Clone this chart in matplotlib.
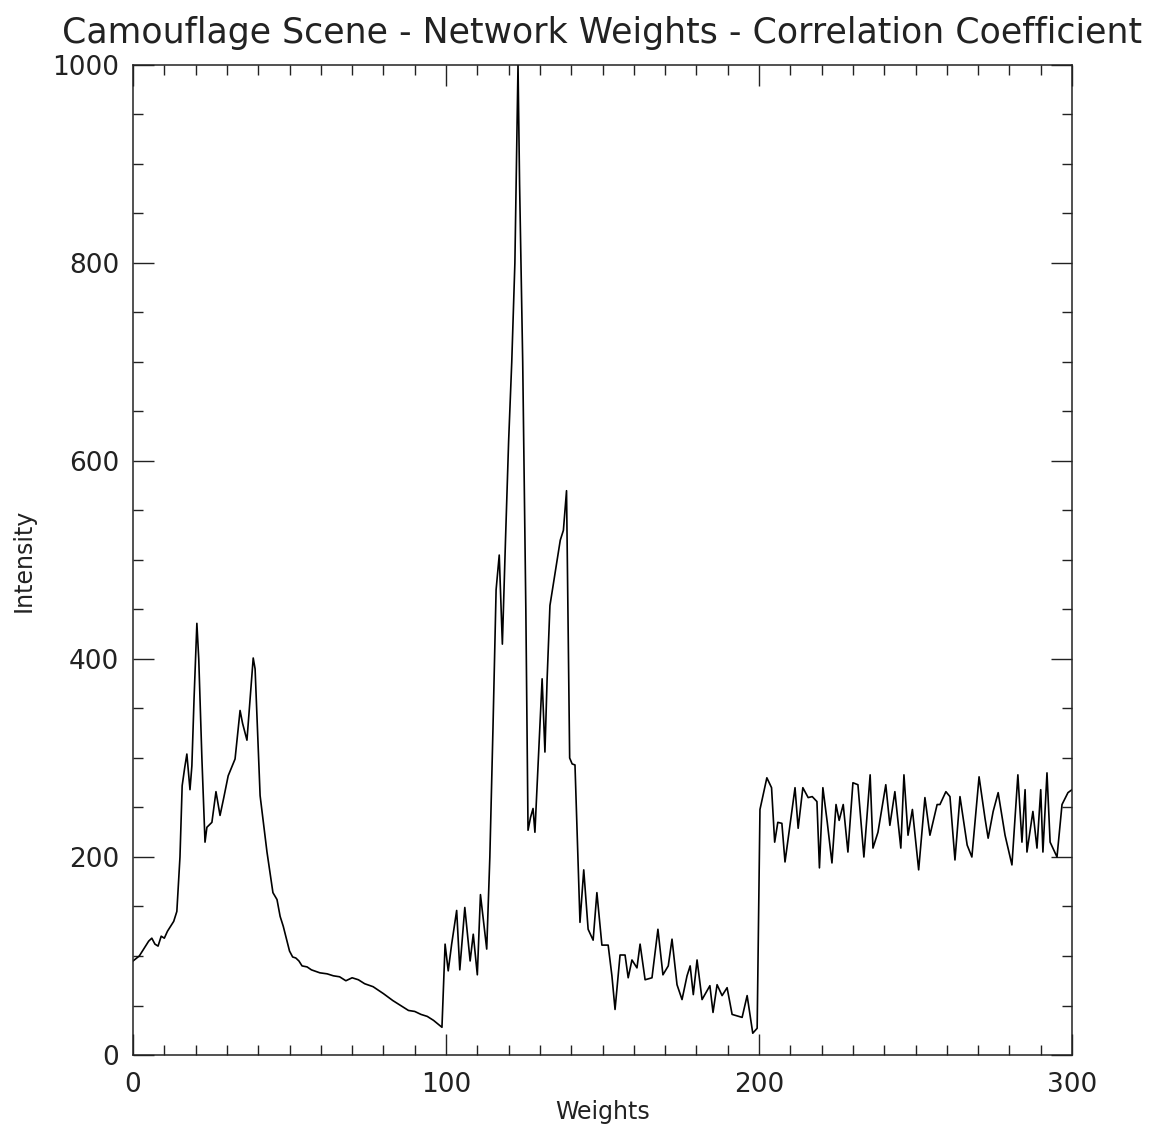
import numpy as np
import matplotlib as mpl
import matplotlib.pyplot as plt
from matplotlib.ticker import MultipleLocator

# values
weights = [0, 2, 4, 5, 6, 7, 8, 9, 10, 11, 13, 14, 15, 15.7, 16.5, 17.2, 18.2, 18.8, 19.5, 20.4,
           21, 22, 23, 23.6, 25.2, 26.5, 27.8, 29, 30.4, 32.6, 34.2, 35, 36.4, 38.4, 39, 40.6,
           42.8, 44.7, 46, 47, 48, 50, 51, 52, 53, 54, 55.6, 57, 59.7, 62, 64, 66, 68, 70, 72,
           74, 76.7, 80, 83, 86, 88, 90, 92, 94, 96, 98.7, 99.7,
           100.7, 101.8, 103.4, 104.4, 106, 107.7, 108.7, 110, 111, 113, 114, 115, 116, 117,
           118, 119, 120, 121, 122, 123, 123.5, 124.5, 125.5, 126.2, 127, 127.8, 128.4, 129.5,
           130.7, 131.6, 132.3, 133.2, 135, 136.5, 137.5, 138.5, 139.5, 140.3, 141.2, 142.8,
           144, 145.4, 147, 148.2, 149.8, 151.8, 153, 154, 155.6, 157.2, 158.2, 159.4, 161, 162,
           163.6, 165.8, 167.7, 169.3, 171, 172.2, 173.8, 175.4, 177, 178, 179, 180.2, 181.8,
           184.3, 185.3, 186.6, 188.2, 189.8, 191.4, 194.6, 196.2, 198, 199.4,
           200.3, 202.5, 204, 205, 206, 207.3, 208.3, 210, 211.5, 212.5, 214, 215.7, 217, 218.5,
           219.3, 220.4, 221.8, 223.3, 224.6, 225.6, 226.9, 228.4, 230, 231.6, 233.5, 235.5,
           236.4, 238, 240.5, 241.8, 243.4, 245.3, 246.3, 247.6, 249, 251, 253, 254.6, 256.9,
           257.8, 259.7, 261, 262.6, 264.2, 266.5, 268, 270.3, 272.2, 273.2, 274.8, 276.4,
           278.6, 280.8, 282.7, 284, 285, 285.6, 287.5, 288.8, 290, 290.7, 292, 293, 295.2,
           296.8, 298.7, 300]
intensity = [95, 100, 110, 115, 118, 112, 110, 120, 118, 125, 135, 145, 200, 272, 290, 304, 268, 292, 360, 436,
             400, 300, 215, 230, 235, 266, 242, 260, 282, 299, 348, 335, 318, 401, 390, 262,
             205, 164, 157, 140, 130, 105, 99, 98, 95, 90, 89, 86, 83, 82, 80, 79, 75, 78, 76,
             72, 69, 62, 55, 49, 45, 44, 41, 39, 35, 28, 112,
             85, 112, 146, 86, 149, 95, 122, 81, 162, 107, 200, 330, 470, 505,
             415, 520, 620, 700, 800, 1000, 880, 700, 450, 227, 240, 249, 225, 300,
             380, 306, 380, 454, 490, 520, 530, 570, 300, 294, 293, 134,
             187, 127, 116, 164, 111, 111, 80, 46, 101, 101, 78, 96, 88, 112,
             76, 78, 127, 81, 90, 117, 71, 56, 80, 90, 61, 96, 56,
             70, 43, 71, 60, 68, 41, 38, 60, 22, 27,
             248, 280, 270, 215, 235, 234, 195, 235, 270, 229, 270, 260, 261, 256,
             189, 270, 235, 194, 253, 237, 253, 205, 275, 273, 200, 283,
             209, 225, 273, 232, 266, 209, 283, 222, 248, 187, 260, 222, 253,
             253, 266, 261, 197, 261, 212, 200, 281, 239, 219, 246, 265,
             222, 192, 283, 215, 268, 205, 246, 209, 268, 205, 285, 215, 200,
             253, 265, 268]

plt.rcParams['font.family'] = ['DejaVu Sans']
ink = '#222222'

fig = plt.figure(figsize=(11.72, 11.36), dpi=100, facecolor='w')
ax = fig.add_axes([0.1135, 0.0713, 0.8012, 0.8715])
ax.plot(weights, intensity, color='black', linewidth=1.2)

ax.set_xlim(0, 300)
ax.set_ylim(0, 1000)
ax.xaxis.set_major_locator(MultipleLocator(100))
ax.xaxis.set_minor_locator(MultipleLocator(10))
ax.yaxis.set_major_locator(MultipleLocator(200))
ax.yaxis.set_minor_locator(MultipleLocator(50))
ax.tick_params(which='both', direction='in', top=True, right=True, colors=ink, width=1)
ax.tick_params(which='major', length=15, labelsize=19, pad=10)
ax.tick_params(which='minor', length=7)
ax.tick_params(axis='x', which='major', pad=12)
for s in ax.spines.values():
    s.set_color(ink)
    s.set_linewidth(1.1)

ax.set_xlabel('Weights', fontsize=17, color=ink, labelpad=2)
ax.set_ylabel('Intensity', fontsize=17, color=ink, labelpad=12)
ax.set_title('Camouflage Scene - Network Weights - Correlation Coefficient',
             fontsize=25, color=ink, pad=16)

plt.savefig('out.png', dpi=100, facecolor='w')
